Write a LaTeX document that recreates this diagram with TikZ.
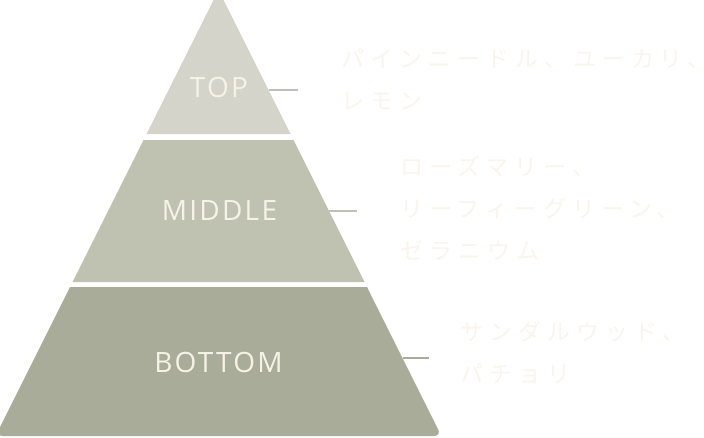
\documentclass[tikz,border=0pt]{standalone}
\usepackage{fontspec}
\usepackage{xcolor}
\newfontfamily\labelfont[LetterSpace=8]{Open Sans}
\newfontfamily\jpfont[LetterSpace=26]{Noto Sans CJK JP}
\definecolor{toptier}{HTML}{D4D4CB}
\definecolor{midtier}{HTML}{C0C2B1}
\definecolor{bottier}{HTML}{A9AC99}
\definecolor{labelink}{HTML}{F7F2E6}
\definecolor{noteink}{HTML}{FAF4EC}
\usetikzlibrary{calc}

\begin{document}
\begin{tikzpicture}[x=1pt,y=-1pt,
    tierlabel/.style={text=labelink,inner sep=0pt,
      font=\labelfont\fontsize{28}{28}\selectfont},
    note/.style={text=noteink,inner sep=0pt,align=left,anchor=north west,
      font=\jpfont\fontsize{23}{42}\selectfont},
    leader/.style={line width=1.5pt}]
  \useasboundingbox (0,0) rectangle (704,437);
  % tiers
  \fill[toptier] (182.5,62) [rounded corners=8] -- (218.5,-10)
    -- (254.5,62) [sharp corners] -- (290.5,134) -- (146.5,134) -- cycle;
  \fill[midtier] (143.5,140) -- (293.5,140) -- (364.5,282) -- (72.5,282) -- cycle;
  \fill[bottier] (218.5,287) -- (367,287) -- (404.2,361.5) [rounded corners=7.5]
    -- (441.5,436) -- (-4.5,436) -- (32.8,361.5) [sharp corners] -- (70,287) -- cycle;
  % labels
  \node[tierlabel] (top) at (219,87) {TOP};
  \node[tierlabel] (middle) at (219.5,211) {MIDDLE};
  \node[tierlabel] (bottom) at (218.5,362.5) {BOTTOM};
  % leaders
  \coordinate (topedge) at (268.5,90);
  \coordinate (topend) at (298,90);
  \coordinate (midedge) at (329,211);
  \coordinate (midend) at (357,211);
  \coordinate (botedge) at (402.5,358);
  \coordinate (botend) at (429,358);
  \draw[leader,toptier!90!black] (topedge) -- (topend);
  \draw[leader,midtier] (midedge) -- (midend);
  \draw[leader,bottier] (botedge) -- (botend);
  % notes
  \node[note] (topnote) at (341,49) {パインニードル、ユーカリ、\kern-24pt\\レモン};
  \node[note] (midnote) at (400,156) {ローズマリー、\\リーフィーグリーン、\\ゼラニウム};
  \node[note] (botnote) at (460,321) {サンダルウッド、\\パチョリ};
\end{tikzpicture}
\end{document}
